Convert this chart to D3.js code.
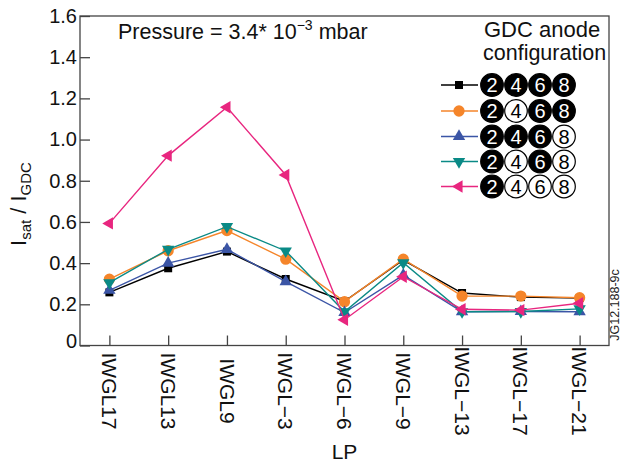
<!DOCTYPE html>
<html>
<head>
<meta charset="utf-8">
<script src="https://cdn.jsdelivr.net/npm/d3@7"></script>
<style>
  html, body { margin: 0; padding: 0; background: #fff; }
  svg { display: block; font-family: "Liberation Sans", Arial, Helvetica, sans-serif; }
</style>
</head>
<body>
<svg id="chart" width="624" height="463"></svg>
<script>
// Probe positions along the x axis
const categories = ["IWGL17", "IWGL13", "IWGL9", "IWGL\u22123", "IWGL\u22126", "IWGL\u22129", "IWGL\u221213", "IWGL\u221217", "IWGL\u221221"];

// Isat / IGDC for each anode configuration
const black  = [0.258, 0.375, 0.456, 0.323, 0.215, 0.415, 0.255, 0.235, 0.230];
const orange = [0.322, 0.460, 0.558, 0.419, 0.213, 0.419, 0.240, 0.240, 0.232];
const blue   = [0.268, 0.400, 0.467, 0.310, 0.160, 0.342, 0.164, 0.165, 0.164];
const teal   = [0.305, 0.467, 0.577, 0.459, 0.164, 0.402, 0.164, 0.165, 0.178];
const pink   = [0.593, 0.922, 1.157, 0.828, 0.125, 0.334, 0.176, 0.172, 0.205];

// Anode numbers and which of them are active (filled) in each configuration
const anodes = [2, 4, 6, 8];
const activeBlack  = [true, true,  true,  true];
const activeOrange = [true, false, true,  true];
const activeBlue   = [true, true,  true,  false];
const activeTeal   = [true, false, true,  false];
const activePink   = [true, false, false, false];

const yTicks = [0, 0.2, 0.4, 0.6, 0.8, 1.0, 1.2, 1.4, 1.6];

const series = [
  { values: black,  active: activeBlack,  color: "#000000", marker: "square" },
  { values: orange, active: activeOrange, color: "#f5852a", marker: "circle" },
  { values: blue,   active: activeBlue,   color: "#3b55a6", marker: "up" },
  { values: teal,   active: activeTeal,   color: "#0a8a86", marker: "down" },
  { values: pink,   active: activePink,   color: "#e8267f", marker: "left" }
];

const svg = d3.select("#chart");
const plotLeft = 80, plotRight = 609, plotTop = 16, plotBottom = 345.5;

const x = d3.scalePoint().domain(categories).range([plotLeft, plotRight]).padding(0.5);
const y = d3.scaleLinear().domain([0, 1.6]).range([plotBottom, plotTop]);

const frameColor = "#444";

// Y axis with inward ticks
const yAxis = svg.append("g")
  .attr("transform", `translate(${plotLeft},0)`)
  .call(d3.axisLeft(y).tickValues(yTicks).tickSize(-10).tickPadding(3)
    .tickFormat(d => d === 0 ? "0" : d.toFixed(1)));
yAxis.select(".domain").remove();
yAxis.selectAll(".tick line").attr("stroke", frameColor).attr("stroke-width", 1.3);
yAxis.selectAll(".tick text").attr("font-size", 20).attr("fill", "#111")
  .attr("font-family", "Liberation Sans, Arial, sans-serif")
  .attr("dy", d => d === 0 ? "0.1em" : "0.32em");

// X axis with inward ticks; labels are drawn rotated below
const xAxis = svg.append("g")
  .attr("transform", `translate(0,${plotBottom})`)
  .call(d3.axisBottom(x).tickSize(-10).tickFormat(""));
xAxis.select(".domain").remove();
xAxis.selectAll(".tick line").attr("stroke", frameColor).attr("stroke-width", 1.3);

svg.append("g").selectAll("text")
  .data(categories)
  .join("text")
  .attr("transform", d => `translate(${x(d)},391) rotate(90)`)
  .attr("text-anchor", "middle")
  .attr("dy", "0.35em")
  .attr("font-size", 21)
  .attr("fill", "#111")
  .text(d => d);

// Plot frame
svg.append("rect")
  .attr("x", plotLeft).attr("y", plotTop)
  .attr("width", plotRight - plotLeft).attr("height", plotBottom - plotTop)
  .attr("fill", "none").attr("stroke", frameColor).attr("stroke-width", 1.3);

// Axis titles
svg.append("text")
  .attr("x", (plotLeft + plotRight) / 2).attr("y", 459)
  .attr("text-anchor", "middle").attr("font-size", 21).attr("fill", "#111")
  .text("LP");

const yTitle = svg.append("text")
  .attr("transform", "translate(26,204) rotate(-90)")
  .attr("text-anchor", "middle").attr("font-size", 22).attr("fill", "#111");
yTitle.append("tspan").text("I");
yTitle.append("tspan").attr("font-size", 15).attr("dy", 5).text("sat");
yTitle.append("tspan").attr("dy", -5).text(" / I");
yTitle.append("tspan").attr("font-size", 15).attr("dy", 5).text("GDC");

// Annotations
const pressure = svg.append("text")
  .attr("x", 118).attr("y", 39)
  .attr("font-size", 21.5).attr("fill", "#111");
pressure.append("tspan").text("Pressure = 3.4* 10");
pressure.append("tspan").attr("font-size", 14).attr("dy", -9).text("\u22123");
pressure.append("tspan").attr("dy", 9).text(" mbar");

svg.append("text").attr("x", 484).attr("y", 37)
  .attr("font-size", 22).attr("fill", "#111").text("GDC anode");
svg.append("text").attr("x", 483).attr("y", 60)
  .attr("font-size", 21.5).attr("fill", "#111").text("configuration");

svg.append("text")
  .attr("transform", "translate(619,305) rotate(-90)")
  .attr("text-anchor", "middle").attr("font-size", 12.5).attr("fill", "#222")
  .text("JG12.188-9c");

// Marker shapes
function markerPath(kind) {
  if (kind === "square") return d3.symbol(d3.symbolSquare, 64)();
  if (kind === "circle") return d3.symbol(d3.symbolCircle, 100)();
  return d3.symbol(d3.symbolTriangle, 66)();
}
function markerRotate(kind) {
  if (kind === "down") return 180;
  if (kind === "left") return -90;
  return 0;
}

const line = d3.line().x((d, i) => x(categories[i])).y(d => y(d));

series.forEach(s => {
  const g = svg.append("g");
  g.append("path")
    .datum(s.values)
    .attr("d", line)
    .attr("fill", "none")
    .attr("stroke", s.color)
    .attr("stroke-width", 1.4);
  g.selectAll("path.mk")
    .data(s.values)
    .join("path")
    .attr("class", "mk")
    .attr("d", markerPath(s.marker))
    .attr("transform", (d, i) => `translate(${x(categories[i])},${y(d)}) rotate(${markerRotate(s.marker)})`)
    .attr("fill", s.color);
});

// Legend: line + marker, then anode pattern (filled = active)
const legendRows = [85, 111, 136.5, 161.5, 186.5];
series.forEach((s, k) => {
  const ly = legendRows[k];
  const g = svg.append("g").attr("transform", `translate(0,${ly})`);
  g.append("line").attr("x1", 441).attr("x2", 478).attr("y1", 0).attr("y2", 0)
    .attr("stroke", s.color).attr("stroke-width", 1.5);
  g.append("path").attr("d", markerPath(s.marker))
    .attr("transform", `translate(459,0) rotate(${markerRotate(s.marker)})`)
    .attr("fill", s.color);
  anodes.forEach((n, j) => {
    const cx = 492 + j * 24;
    const on = s.active[j];
    g.append("circle").attr("cx", cx).attr("cy", 0).attr("r", 11.3)
      .attr("fill", on ? "#000" : "#fff")
      .attr("stroke", "#000").attr("stroke-width", 1.2);
    g.append("text").attr("x", cx).attr("y", 0).attr("dy", "0.36em")
      .attr("text-anchor", "middle").attr("font-size", 20)
      .attr("fill", on ? "#fff" : "#000")
      .text(n);
  });
});
</script>
</body>
</html>
